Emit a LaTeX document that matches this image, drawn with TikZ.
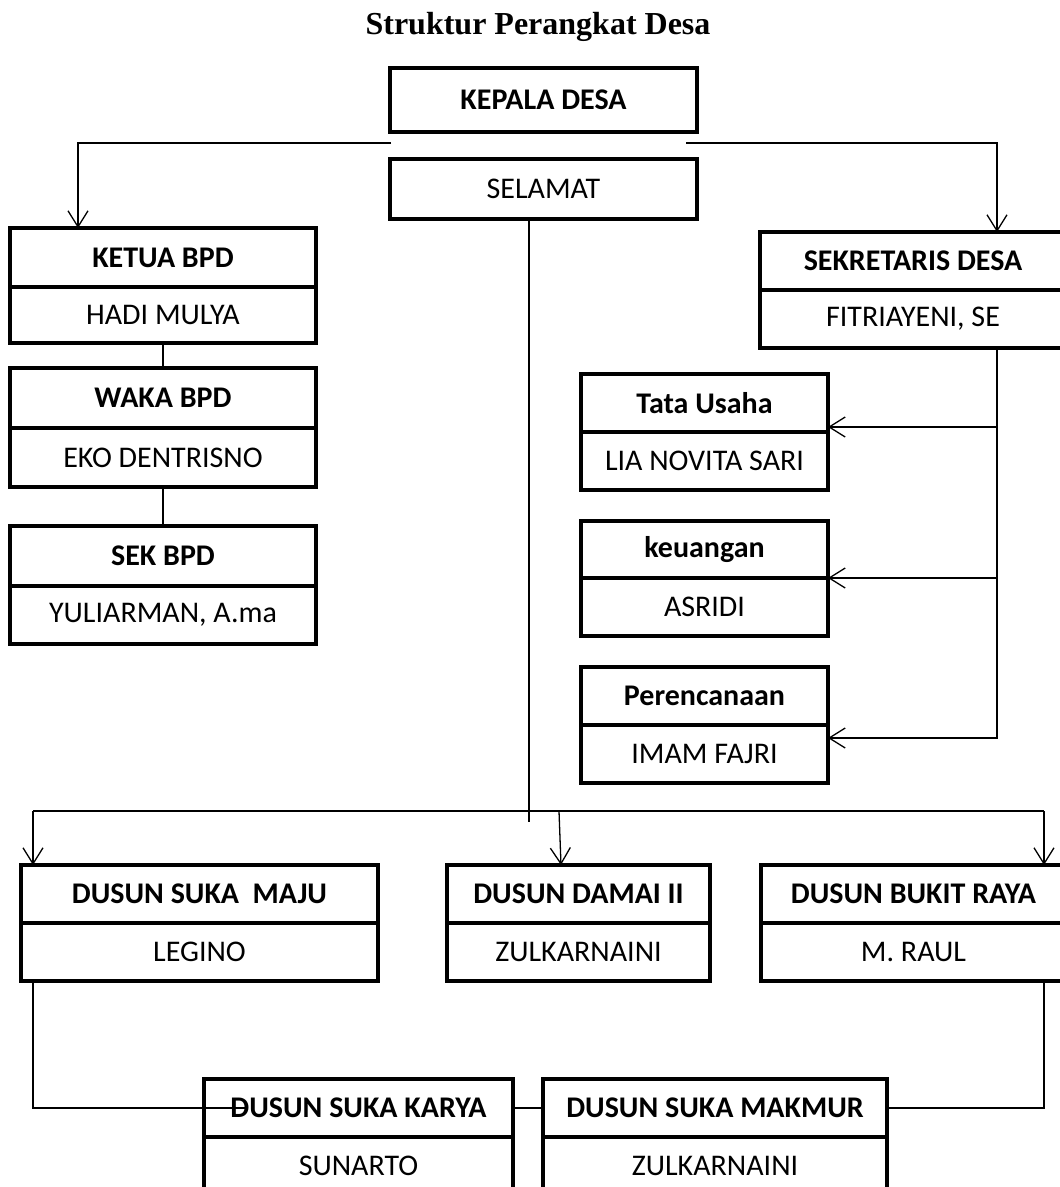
\documentclass[tikz,border=0pt]{standalone}
\usepackage{fontspec}
\setmainfont{Carlito}
\newfontfamily\titlefont{Liberation Serif}
\usetikzlibrary{arrows.meta,calc}
\tikzset{
  boxbase/.style={draw, line width=3.2pt, inner sep=0pt, outer sep=0pt, anchor=north west, align=center},
  topbox/.style={boxbase, font=\bfseries\fontsize{30}{32}\selectfont},
  botbox/.style={boxbase, font=\fontsize{30}{32}\selectfont},
  conn/.style={line width=1.3pt},
  arr/.style={conn, -{Straight Barb[length=16pt,width=20pt]}}
}
\newcommand{\twobox}[8]{%
  \pgfmathsetmacro\tbW{#4-#2}%
  \pgfmathsetmacro\tbHa{#5-#3}%
  \pgfmathsetmacro\tbHb{#6-#5}%
  \node[topbox, minimum width=\tbW pt, minimum height=\tbHa pt] (#1a) at (#2,#3) {#7};
  \node[botbox, minimum width=\tbW pt, minimum height=\tbHb pt] (#1b) at (#2,#5) {#8};
}
\begin{document}
\begin{tikzpicture}[x=1pt,y=-1pt]
\useasboundingbox (0,0) rectangle (1060,1187);
\clip (0,0) rectangle (1060,1187);
\node[font=\titlefont\bfseries\fontsize{32}{34}\selectfont] (title) at (538,27) {Struktur Perangkat Desa};
% head
\node[topbox, minimum width=307pt, minimum height=64pt] (kd) at (390,68) {KEPALA DESA};
\node[botbox, minimum width=307pt, minimum height=60pt] (sel) at (390,159) {SELAMAT};
% BPD column
\twobox{ketua}{10}{228}{316}{287}{343}{KETUA BPD}{HADI MULYA}
\twobox{waka}{10}{368}{316}{428}{487}{WAKA BPD}{EKO DENTRISNO}
\twobox{sek}{10}{526}{316}{586}{644}{SEK BPD}{YULIARMAN, A.ma}
% secretary column
\twobox{sekdes}{760}{232}{1066}{290}{348}{SEKRETARIS DESA}{FITRIAYENI, SE}
\twobox{tu}{581}{374}{828}{432}{490}{Tata Usaha}{LIA NOVITA SARI}
\twobox{keu}{581}{521}{828}{578}{636}{keuangan}{ASRIDI}
\twobox{per}{581}{667}{828}{725}{783}{Perencanaan}{IMAM FAJRI}
% dusun
\twobox{maju}{21}{865}{378}{923}{981}{DUSUN SUKA\ \ MAJU}{LEGINO}
\twobox{damai}{447}{865}{710}{923}{981}{DUSUN DAMAI II}{ZULKARNAINI}
\twobox{bukit}{761}{865}{1066}{923}{981}{DUSUN BUKIT RAYA}{M. RAUL}
\twobox{karya}{204}{1079}{513}{1137}{1195}{DUSUN SUKA KARYA}{SUNARTO}
\twobox{makmur}{543}{1079}{887}{1137}{1195}{DUSUN SUKA MAKMUR}{ZULKARNAINI}
% connectors from head
\coordinate (kdL) at (391,143);
\coordinate (kdR) at (686,143);
\draw[arr] (kdL) -| ([xshift=68pt]ketuaa.north west);
\draw[arr] (kdR) -| ([xshift=237pt]sekdesa.north west);
\coordinate (selend) at (529,822);
\draw[conn] (sel.south -| selend) -- (selend);
% BPD chain
\draw[conn] (ketuab.south) -- (wakaa.north);
\draw[conn] (wakab.south) -- (seka.north);
% secretary branches
\coordinate (tuj) at (997,427);
\coordinate (keuj) at (997,578);
\coordinate (perj) at (997,738);
\draw[arr] (sekdesb.south -| perj) -- (perj) -- (perj -| perb.east);
\draw[arr] (tuj) -- (tuj -| tua.east);
\draw[arr] (keuj) -- (keuj -| keua.east);
% dusun bar
\coordinate (bl) at (33,811);
\coordinate (br) at (1044,811);
\coordinate (bm) at (559,811);
\draw[conn] (bl) -- (br);
\draw[arr] (bl) -- (bl |- majua.north);
\draw[arr] (br) -- (br |- bukita.north);
\draw[arr] (bm) -- ([xshift=114pt]damaia.north west);
% lower links
\draw[conn] ([xshift=12pt]majub.south west) |- ([xshift=43pt]karyaa.west);
\draw[conn] ([xshift=283pt]bukitb.south west) |- (makmura.east);
\draw[conn] (karyaa.east) -- (makmura.west);
\end{tikzpicture}
\end{document}
